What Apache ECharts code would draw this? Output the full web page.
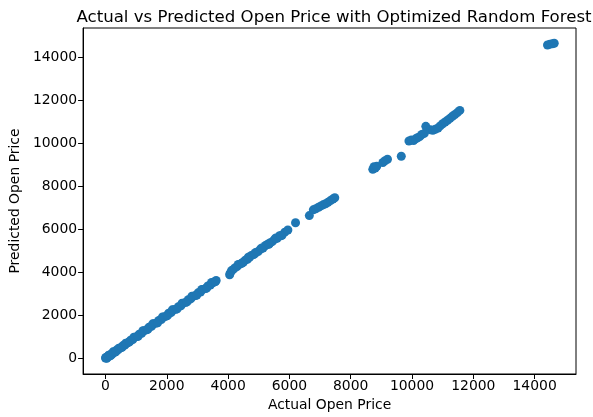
<!DOCTYPE html>
<html>
<head>
<meta charset="utf-8">
<script src="https://cdn.jsdelivr.net/npm/echarts@6/dist/echarts.min.js"></script>
<style>
html,body{margin:0;padding:0;background:#fff;}
#chart{width:593px;height:417px;}
</style>
</head>
<body>
<div id="chart"></div>
<script>
var actualPrice = [
  0, 15, 35, 60, 90, 120, 150, 190, 230, 270, 310, 360, 410, 460, 510, 570, 630, 690, 750, 820,
  890, 960, 1030, 1100, 1180, 1260, 1340, 1420, 1500, 1580, 1660, 1740, 1820, 1900, 1980, 2060,
  2140, 2220, 2300, 2380, 2460, 2540, 2620, 2700, 2780, 2860, 2940, 3020, 3100, 3180, 3260, 3340,
  3420, 3500, 3560, 3610,
  40, 105, 170, 250, 335, 435, 540, 660, 785, 925, 1065, 1220, 1380, 1540, 1700, 1860, 2020, 2180,
  2340, 2500, 2660, 2820, 2980, 3140, 3300, 3460, 3590,
  4050, 4070, 4110, 4160, 4220, 4290, 4360, 4430, 4500, 4560, 4630, 4700, 4760, 4830, 4900, 4980,
  5060, 5140, 5220, 5290, 5360, 5440, 5520, 5600, 5680, 5760, 5850, 5950, 6200,
  4330, 4470, 4660, 4870, 5100, 5330, 5560, 5720,
  6650, 6780, 6860, 6950, 7030, 7100, 7180, 7260, 7340, 7420, 7480,
  8720, 8760, 8800, 8850, 9050, 9120, 9200, 9650,
  9900, 9980, 10050, 10120, 10180, 10250, 10320, 10400, 10450, 10600, 10680, 10760, 10850, 10920,
  11000, 11080, 11160, 11240, 11320, 11400, 11480, 11560,
  14420, 14500, 14580, 14640
];
var predictedPrice = [
  10, 40, 20, 75, 70, 140, 130, 200, 210, 290, 290, 380, 390, 470, 500, 590, 610, 700, 740, 840,
  870, 980, 1010, 1120, 1160, 1280, 1320, 1440, 1480, 1600, 1640, 1760, 1800, 1920, 1960, 2090,
  2120, 2250, 2280, 2400, 2440, 2560, 2600, 2720, 2760, 2880, 2920, 3040, 3080, 3200, 3240, 3360,
  3400, 3510, 3550, 3620,
  0, 140, 120, 300, 300, 470, 510, 700, 760, 980, 1020, 1280, 1340, 1600, 1650, 1920, 1980, 2250,
  2300, 2560, 2620, 2880, 2940, 3200, 3260, 3520, 3570,
  3880, 3960, 4070, 4120, 4200, 4260, 4350, 4400, 4470, 4560, 4600, 4690, 4780, 4820, 4920, 4960,
  5080, 5120, 5240, 5300, 5360, 5420, 5540, 5580, 5700, 5720, 5860, 5960, 6300,
  4360, 4440, 4700, 4850, 5130, 5300, 5590, 5690,
  6630, 6900, 6950, 7020, 7080, 7130, 7180, 7250, 7330, 7400, 7460,
  8780, 8900, 8840, 8920, 9100, 9180, 9250, 9390,
  10100, 10150, 10120, 10200, 10250, 10300, 10400, 10450, 10780, 10620, 10600, 10640, 10700, 10800,
  10900, 10980, 11060, 11150, 11250, 11330, 11420, 11520,
  14560, 14600, 14620, 14640
];
var xTicks = [0, 2000, 4000, 6000, 8000, 10000, 12000, 14000];
var yTicks = [0, 2000, 4000, 6000, 8000, 10000, 12000, 14000];

var points = actualPrice.map(function (a, i) { return [a, predictedPrice[i]]; });
var FONT = 'DejaVu Sans';
var plain = function (v) { return String(v); };

var chart = echarts.init(document.getElementById('chart'), null, {renderer: 'canvas'});
chart.setOption({
  animation: false,
  backgroundColor: '#fff',
  title: {
    text: 'Actual vs Predicted Open Price with Optimized Random Forest',
    left: 329,
    textAlign: 'center',
    top: 4,
    textStyle: {fontFamily: FONT, fontSize: 16.6, fontWeight: 'normal', color: '#000'}
  },
  grid: {
    left: 83, right: 17, top: 28, bottom: 43,
    show: true, borderColor: '#000', borderWidth: 1, backgroundColor: 'transparent'
  },
  xAxis: {
    type: 'value',
    min: -731, max: 15350,
    name: 'Actual Open Price',
    nameLocation: 'middle',
    nameGap: 24,
    nameTextStyle: {fontFamily: FONT, fontSize: 13.9, color: '#000'},
    splitLine: {show: false},
    axisLine: {show: true, onZero: false, lineStyle: {color: '#000', width: 1}},
    axisTick: {show: true, length: 5, lineStyle: {color: '#000'}, customValues: xTicks},
    axisLabel: {fontFamily: FONT, fontSize: 13.9, color: '#000', margin: 5, customValues: xTicks, formatter: plain}
  },
  yAxis: {
    type: 'value',
    min: -731, max: 15350,
    name: 'Predicted Open Price',
    nameLocation: 'middle',
    nameGap: 59,
    nameTextStyle: {fontFamily: FONT, fontSize: 13.9, color: '#000'},
    splitLine: {show: false},
    axisLine: {show: true, onZero: false, lineStyle: {color: '#000', width: 1}},
    axisTick: {show: true, length: 5, lineStyle: {color: '#000'}, customValues: yTicks},
    axisLabel: {fontFamily: FONT, fontSize: 13.9, color: '#000', margin: 6, customValues: yTicks, formatter: plain}
  },
  series: [{
    type: 'scatter',
    data: points,
    symbol: 'circle',
    symbolSize: 9,
    itemStyle: {color: '#1f77b4', opacity: 1}
  }]
});
</script>
</body>
</html>
